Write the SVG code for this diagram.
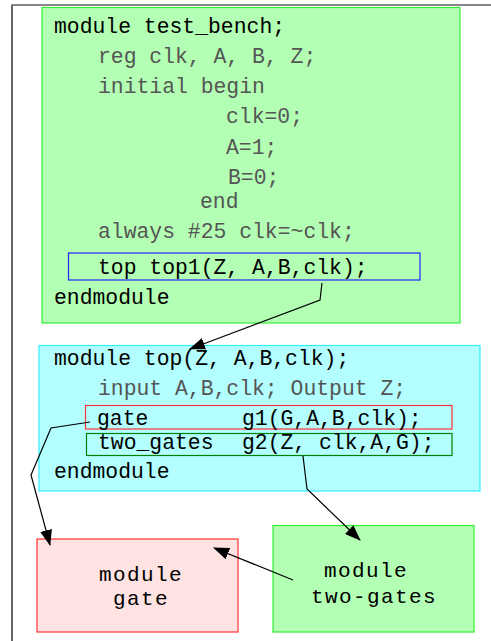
<svg xmlns="http://www.w3.org/2000/svg" width="491" height="641" viewBox="0 0 491 641">
<style>
text{font-family:"Liberation Mono","Courier New",monospace;font-size:21.4px;fill:#000}
.g{fill:#555}
.big{font-size:21px;letter-spacing:1.4px;text-anchor:middle}
.c{fill:none;stroke:#000;stroke-width:1.2}
</style>
<defs>
<marker id="ah" markerWidth="16" markerHeight="12" refX="15" refY="6" orient="auto" markerUnits="userSpaceOnUse">
<path d="M0,0 L16,6 L0,12 Z" fill="#000"/>
</marker>
</defs>
<rect width="491" height="641" fill="#fff"/>
<path d="M12,641 V5 H491" fill="none" stroke="#000" stroke-width="1.2"/>
<path d="M12,5 H491" fill="none" stroke="#888" stroke-width="1.5"/>

<g id="test_bench">
<rect x="42" y="7.5" width="418" height="315.5" fill="#b3ffb3" stroke="#33ee33" stroke-width="1.2"/>
<text x="54" y="33">module test_bench;</text>
<text class="g" x="98" y="63">reg clk, A, B, Z;</text>
<text class="g" x="98" y="93">initial begin</text>
<text class="g" x="226" y="123">clk=0;</text>
<text class="g" x="226" y="154">A=1;</text>
<text class="g" x="228" y="184">B=0;</text>
<text class="g" x="200" y="208">end</text>
<text class="g" x="98" y="238">always #25 clk=~clk;</text>
<rect x="68.5" y="253" width="351.5" height="27" fill="none" stroke="#2222ff" stroke-width="1.2"/>
<text x="98" y="274">top top1(Z, A,B,clk);</text>
<text x="54" y="304">endmodule</text>
</g>

<g id="top">
<rect x="39" y="345.5" width="441" height="145.5" fill="#b3ffff" stroke="#33eeff" stroke-width="1.2"/>
<text x="54" y="365">module top(Z, A,B,clk);</text>
<text class="g" x="98" y="395">input A,B,clk; Output Z;</text>
<rect x="85.5" y="405.5" width="366.5" height="23.5" fill="none" stroke="#ff3333" stroke-width="1.2"/>
<text x="97" y="425">gate</text>
<text x="242" y="425">g1(G,A,B,clk);</text>
<rect x="86.5" y="433.5" width="365.5" height="22" fill="none" stroke="#008000" stroke-width="1.2"/>
<text x="98" y="449">two_gates</text>
<text x="242" y="449">g2(Z, clk,A,G);</text>
<text x="54" y="478">endmodule</text>
</g>

<g id="gate">
<rect x="37" y="539" width="201" height="93" fill="#ffe3e3" stroke="#ff3333" stroke-width="1.2"/>
<text class="big" x="141" y="581">module</text>
<text class="big" x="141" y="605">gate</text>
</g>

<g id="two_gates">
<rect x="273" y="525.5" width="201" height="106.5" fill="#b3ffb3" stroke="#33ee33" stroke-width="1.2"/>
<text class="big" x="366" y="577">module</text>
<text class="big" x="374" y="603">two-gates</text>
</g>

<g id="connectors">
<path class="c" d="M322,283 L320,300 L190,349" marker-end="url(#ah)"/>
<path class="c" d="M90,422 L51,428 L31,475 L50,545" marker-end="url(#ah)"/>
<path class="c" d="M303,456 L307,489 L360,540" marker-end="url(#ah)"/>
<path class="c" d="M293,580 L214,548" marker-end="url(#ah)"/>
</g>
</svg>
